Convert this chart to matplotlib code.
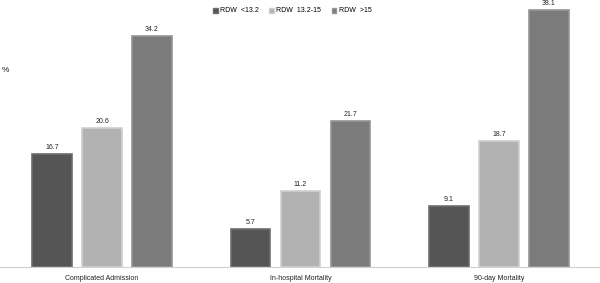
import numpy as np
import matplotlib
matplotlib.use("Agg")
import matplotlib.pyplot as plt
from matplotlib.patches import Patch

categories = ["Complicated Admission", "In-hospital Mortality", "90-day Mortality"]
series = ["RDW  <13.2", "RDW  13.2-15", "RDW  >15"]
rdw_low = [16.7, 5.7, 9.1]
rdw_mid = [20.6, 11.2, 18.7]
rdw_high = [34.2, 21.7, 38.1]

colors = ["#555555", "#b2b2b2", "#7b7b7b"]
edges = ["#6e6e6e", "#cfcfcf", "#959595"]

plt.rcParams["font.family"] = ["Liberation Sans", "DejaVu Sans"]

fig = plt.figure(figsize=(6, 2.83), dpi=100)
ax = fig.add_axes([0.0, 16 / 283, 1.0, 263 / 283])

x = np.arange(len(categories))
width = 0.2
offsets = [-0.252, 0, 0.252]
for vals, off, c, ec in zip([rdw_low, rdw_mid, rdw_high], offsets, colors, edges):
    bars = ax.bar(x + off, vals, width, color=c, edgecolor=ec, linewidth=1.2)
    for b, v in zip(bars, vals):
        ax.text(b.get_x() + b.get_width() / 2, v + 0.45, f"{v}",
                ha="center", va="bottom", fontsize=5, color="#222222")

ax.set_xlim(-0.514, 2.509)
ax.set_ylim(0, 39)
ax.set_xticks(x)
ax.set_xticklabels(categories, fontsize=5, color="#222222")
ax.tick_params(axis="x", length=0, pad=6)
ax.set_yticks([])
for s in ["top", "right", "left"]:
    ax.spines[s].set_visible(False)
ax.spines["bottom"].set_color("#d0d0d0")
ax.spines["bottom"].set_linewidth(0.8)

fig.text(0.003, 1 - 70 / 283, "%", fontsize=6, va="center", ha="left", color="#222222")

handles = [Patch(facecolor=c, edgecolor=ec) for c, ec in zip(colors, edges)]
fig.legend(handles, series, loc="center", bbox_to_anchor=(0.487, 1 - 11 / 283),
           ncol=3, frameon=False, fontsize=5, handlelength=0.7, handleheight=0.7,
           handletextpad=0.3, columnspacing=1.5)

fig.savefig("out.png", dpi=100)
